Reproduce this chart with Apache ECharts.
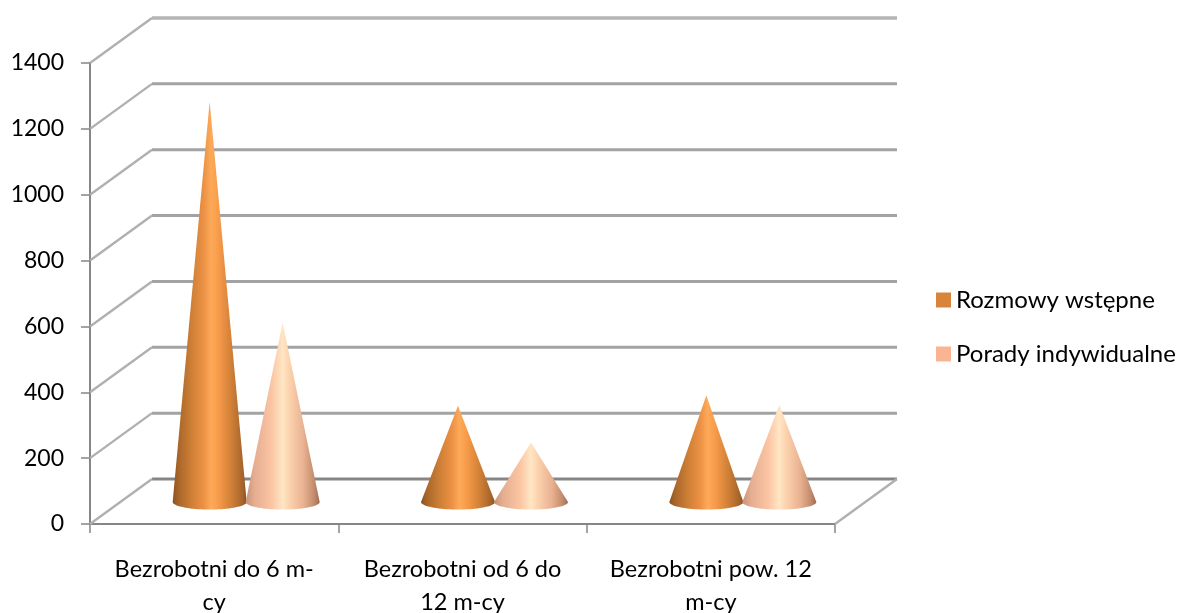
<!DOCTYPE html>
<html><head><meta charset="utf-8">
<style>html,body{margin:0;padding:0;background:#fff}#c{width:1182px;height:613px}</style>
<script src="https://cdn.jsdelivr.net/npm/echarts@6/dist/echarts.min.js"></script>
</head><body><div id="c"></div>
<script>
const categories = ['Bezrobotni do 6 m-\ncy', 'Bezrobotni od 6 do\n12 m-cy', 'Bezrobotni pow. 12\nm-cy'];
const rozmowy = [1214, 291, 322];
const porady = [543, 179, 294];
const ticks = [0, 200, 400, 600, 800, 1000, 1200, 1400];

const DX = 62, DY = -45;            // depth of the 3D box
const FONT = 'Lato';
const chart = echarts.init(document.getElementById('c'), null, {renderer: 'canvas'});

function wall(params, api) {
  const cs = params.coordSys;
  const v = api.value(0);
  const y = api.coord([0, v])[1];
  const x0 = cs.x, x1 = cs.x + cs.width;
  const floor = v === 0;
  const kids = [
    {type: 'line', shape: {x1: x0 + DX, y1: y + DY, x2: x1 + DX, y2: y + DY},
     style: {stroke: floor ? '#868686' : (v === 1400 ? '#b4b4b4' : '#a3a3a3'), lineWidth: v === 1400 ? 3.5 : 3}},
    {type: 'line', shape: {x1: x0, y1: y, x2: x0 + DX, y2: y + DY},
     style: {stroke: '#b0b0b0', lineWidth: 2.4}}
  ];
  if (floor) {
    kids.push({type: 'line', shape: {x1: x1, y1: y, x2: x1 + DX, y2: y + DY},
      style: {stroke: '#b0b0b0', lineWidth: 2.4}});
  }
  return {type: 'group', children: kids};
}

function cone(side, stops) {
  return function (params, api) {
    const c = api.coord([api.value(0), api.value(1)]);
    const base = api.coord([api.value(0), 0]);
    const cx = c[0] + DX / 2 + 1 + side * 36.5;
    const cy = base[1] + DY / 2 + 0.5;
    const rx = 37, ry = 7.5;
    const points = [[cx, c[1] + DY / 2]];
    for (let i = 0; i <= 40; i++) {
      const a = Math.PI * i / 40;
      points.push([cx + rx * Math.cos(a), cy + ry * Math.sin(a)]);
    }
    return {
      type: 'polygon',
      shape: {points: points},
      style: {fill: new echarts.graphic.LinearGradient(0, 0, 1, 0, stops)}
    };
  };
}

const orangeStops = [
  {offset: 0, color: '#8a5220'}, {offset: 0.08, color: '#a9662a'}, {offset: 0.25, color: '#cd7f35'},
  {offset: 0.42, color: '#ec9145'}, {offset: 0.52, color: '#fdaa58'}, {offset: 0.62, color: '#f79b4a'},
  {offset: 0.8, color: '#cf7f36'}, {offset: 0.95, color: '#a4642a'}, {offset: 1, color: '#86501f'}
];
const peachStops = [
  {offset: 0, color: '#c99178'}, {offset: 0.12, color: '#e5ae91'}, {offset: 0.35, color: '#fbc4a2'},
  {offset: 0.5, color: '#ffe6c4'}, {offset: 0.58, color: '#fdd4b0'}, {offset: 0.78, color: '#e9b291'},
  {offset: 0.93, color: '#c08a6c'}, {offset: 1, color: '#9d6a52'}
];

chart.setOption({
  animation: false,
  backgroundColor: '#fff',
  textStyle: {fontFamily: FONT},
  grid: {left: 90, right: 347, top: 63, bottom: 89, containLabel: false, outerBoundsMode: 'none'},
  legend: {
    orient: 'vertical', left: 931, top: 283, itemWidth: 15, itemHeight: 15, itemGap: 30,
    icon: 'rect', data: ['Rozmowy wstępne', 'Porady indywidualne'],
    textStyle: {fontFamily: FONT, fontSize: 24, color: '#000'},
    itemStyle: {borderWidth: 0}, selectedMode: false
  },
  xAxis: {
    type: 'category', data: categories,
    axisLine: {lineStyle: {color: '#868686', width: 2}},
    axisTick: {show: true, length: 9, lineStyle: {color: '#868686', width: 1.5}},
    axisLabel: {fontFamily: FONT, fontSize: 23.5, color: '#000', margin: 29, lineHeight: 33, interval: 0}
  },
  yAxis: {
    type: 'value', min: 0, max: 1400, interval: 200,
    splitLine: {show: false},
    axisLine: {show: true, lineStyle: {color: '#868686', width: 2}},
    axisTick: {show: true, length: 9, lineStyle: {color: '#868686', width: 1.5}},
    axisLabel: {fontFamily: FONT, fontSize: 23, color: '#000', margin: 26, formatter: v => String(v)}
  },
  series: [
    {type: 'custom', name: 'wall', silent: true, z: 1, renderItem: wall,
     data: ticks.map(t => [t]), encode: {y: 0}, clip: false},
    {type: 'custom', name: 'Rozmowy wstępne', z: 3, renderItem: cone(-1, orangeStops), clip: false,
     itemStyle: {color: '#d9843b'}, data: rozmowy.map((v, i) => [i, v]), encode: {x: 0, y: 1}},
    {type: 'custom', name: 'Porady indywidualne', z: 4, renderItem: cone(1, peachStops), clip: false,
     itemStyle: {color: '#fab491'}, data: porady.map((v, i) => [i, v]), encode: {x: 0, y: 1}}
  ]
});
</script></body></html>
